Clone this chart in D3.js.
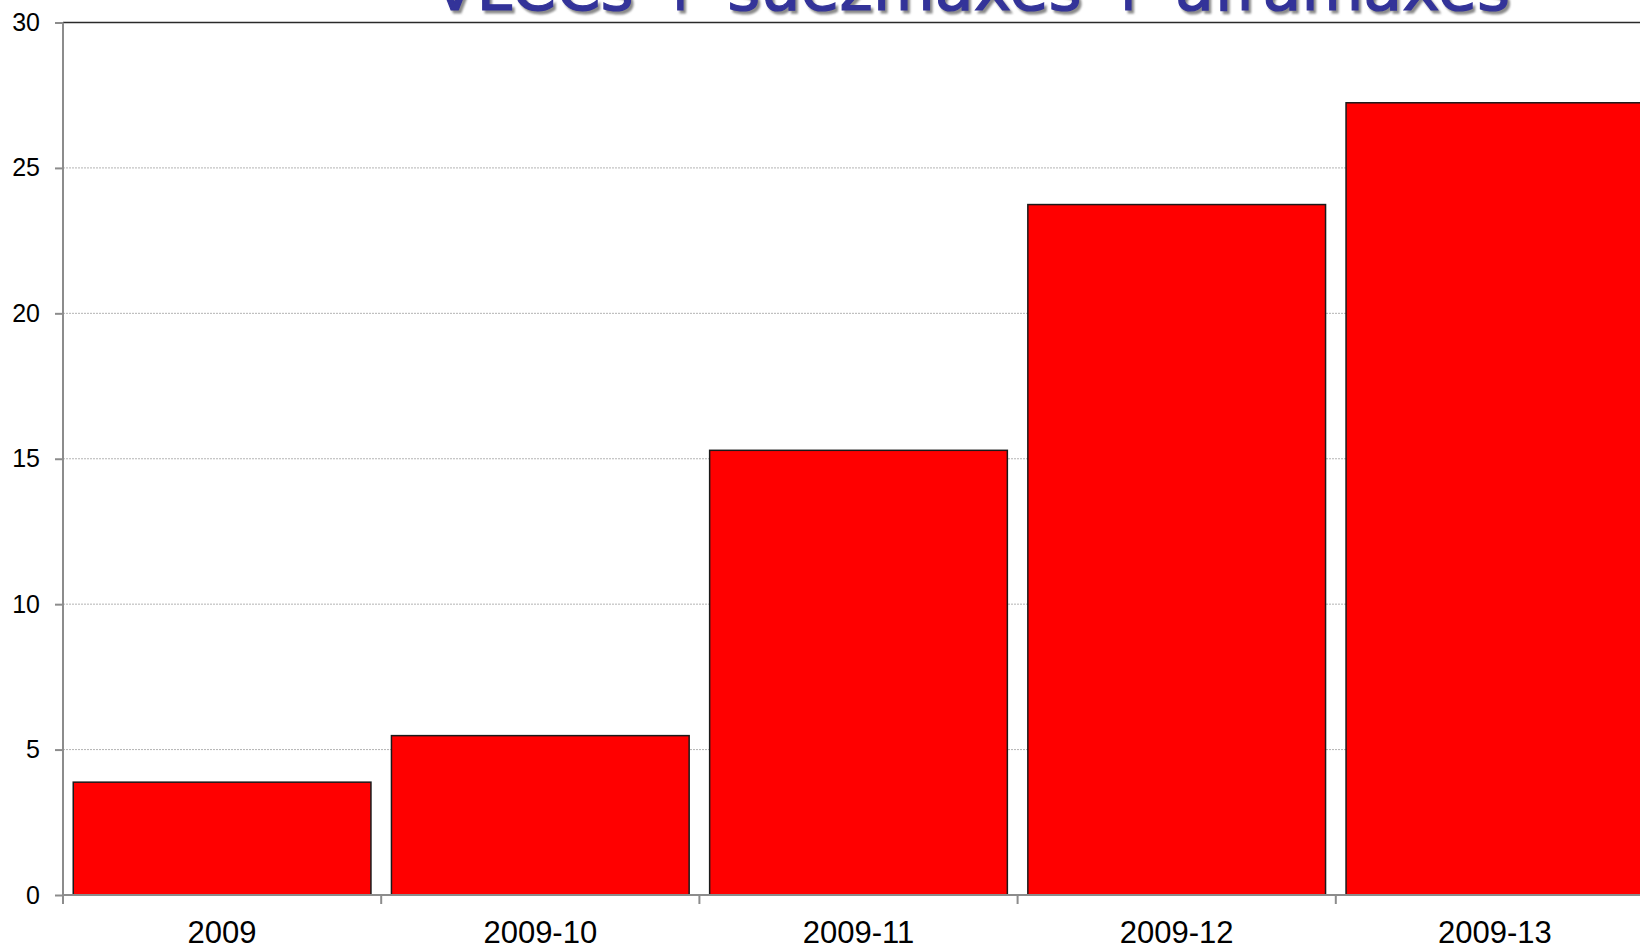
<!DOCTYPE html>
<html>
<head>
<meta charset="utf-8">
<script src="https://cdn.jsdelivr.net/npm/d3@7"></script>
<style>
  html, body { margin: 0; padding: 0; background: #fff; overflow: hidden; }
  svg { display: block; }
</style>
</head>
<body>
<svg id="chart" width="1640" height="946"></svg>
<script>
const titleText = "VLCCs + suezmaxes + aframaxes";
const categories = ["2009", "2009-10", "2009-11", "2009-12", "2009-13"];
const values = [3.88, 5.48, 15.29, 23.74, 27.24];
const yTicks = [0, 5, 10, 15, 20, 25, 30];

(function () {
const svg = d3.select("#chart");
const W = 1640;
const mLeft = 63, mBottom = 895, mTop = 22.5;
const step = 318.2;
const pad = 0.0644;

const x = d3.scaleBand()
  .domain(categories)
  .range([mLeft, mLeft + step * categories.length])
  .paddingInner(pad)
  .paddingOuter(pad / 2);

const y = d3.scaleLinear().domain([0, 30]).range([mBottom, mTop]);

const defs = svg.append("defs");
const f = defs.append("filter").attr("id", "sh").attr("x", "-5%").attr("y", "-50%").attr("width", "110%").attr("height", "200%");
f.append("feGaussianBlur").attr("stdDeviation", 1.2);

// gridlines
svg.append("g")
  .selectAll("line")
  .data(yTicks.filter(d => d > 0 && d < 30))
  .join("line")
  .attr("x1", mLeft).attr("x2", W)
  .attr("y1", d => y(d)).attr("y2", d => y(d))
  .attr("stroke", "#b4b4b4")
  .attr("stroke-width", 1)
  .attr("stroke-dasharray", "2,1");

// top border line
svg.append("line")
  .attr("x1", mLeft).attr("x2", W)
  .attr("y1", y(30)).attr("y2", y(30))
  .attr("stroke", "#2a2a2a").attr("stroke-width", 1.6);

// bars
svg.append("g")
  .selectAll("rect")
  .data(categories.map((c, i) => ({ c, v: values[i] })))
  .join("rect")
  .attr("x", d => x(d.c))
  .attr("y", d => y(d.v))
  .attr("width", x.bandwidth())
  .attr("height", d => y(0) - y(d.v))
  .attr("fill", "#ff0000")
  .attr("stroke", "#1a1a1a")
  .attr("stroke-width", 1.5);

// y axis
const yAxis = d3.axisLeft(y).tickValues(yTicks).tickSize(8).tickPadding(15).tickFormat(d3.format("d"));
const gy = svg.append("g").attr("transform", `translate(${mLeft},0)`).call(yAxis);
gy.select(".domain").attr("stroke", "#8c8c8c").attr("stroke-width", 2).attr("d", `M0,${mTop}V${mBottom}`);
gy.selectAll(".tick line").attr("stroke", "#8c8c8c").attr("stroke-width", 2);
gy.selectAll(".tick text")
  .attr("font-family", "'Liberation Sans', Arial, sans-serif")
  .attr("font-size", 25)
  .attr("fill", "#000");

// x axis baseline
svg.append("line")
  .attr("x1", mLeft).attr("x2", W)
  .attr("y1", y(0)).attr("y2", y(0))
  .attr("stroke", "#8c8c8c").attr("stroke-width", 2);

// x axis boundary ticks
const bounds = categories.map(c => x(c) - x.step() * pad / 2);
svg.append("g")
  .selectAll("line")
  .data(bounds)
  .join("line")
  .attr("x1", d => d).attr("x2", d => d)
  .attr("y1", y(0)).attr("y2", y(0) + 9)
  .attr("stroke", "#8c8c8c").attr("stroke-width", 2);

// x labels
const xAxis = d3.axisBottom(x).tickSize(0).tickPadding(0);
const gx = svg.append("g").attr("transform", `translate(0,${mBottom})`).call(xAxis);
gx.select(".domain").remove();
gx.selectAll(".tick text")
  .attr("y", 48)
  .attr("dy", null)
  .attr("font-family", "'Liberation Sans', Arial, sans-serif")
  .attr("font-size", 31)
  .attr("fill", "#000");

// title (cut at the top)
const tx = 433, tLen = 1077, tBase = 10;
svg.append("text")
  .attr("x", tx + 2.5).attr("y", tBase + 2.5)
  .attr("font-family", "'DejaVu Sans', Verdana, sans-serif")
  .attr("font-size", 63)
  .attr("textLength", tLen).attr("lengthAdjust", "spacingAndGlyphs")
  .attr("fill", "#8a8a8a")
  .attr("stroke", "#8a8a8a").attr("stroke-width", 1.2)
  .attr("filter", "url(#sh)")
  .text(titleText);
svg.append("text")
  .attr("x", tx).attr("y", tBase)
  .attr("font-family", "'DejaVu Sans', Verdana, sans-serif")
  .attr("font-size", 63)
  .attr("textLength", tLen).attr("lengthAdjust", "spacingAndGlyphs")
  .attr("fill", "#333399")
  .attr("stroke", "#333399").attr("stroke-width", 1.2)
  .text(titleText);
})();
</script>
</body>
</html>
